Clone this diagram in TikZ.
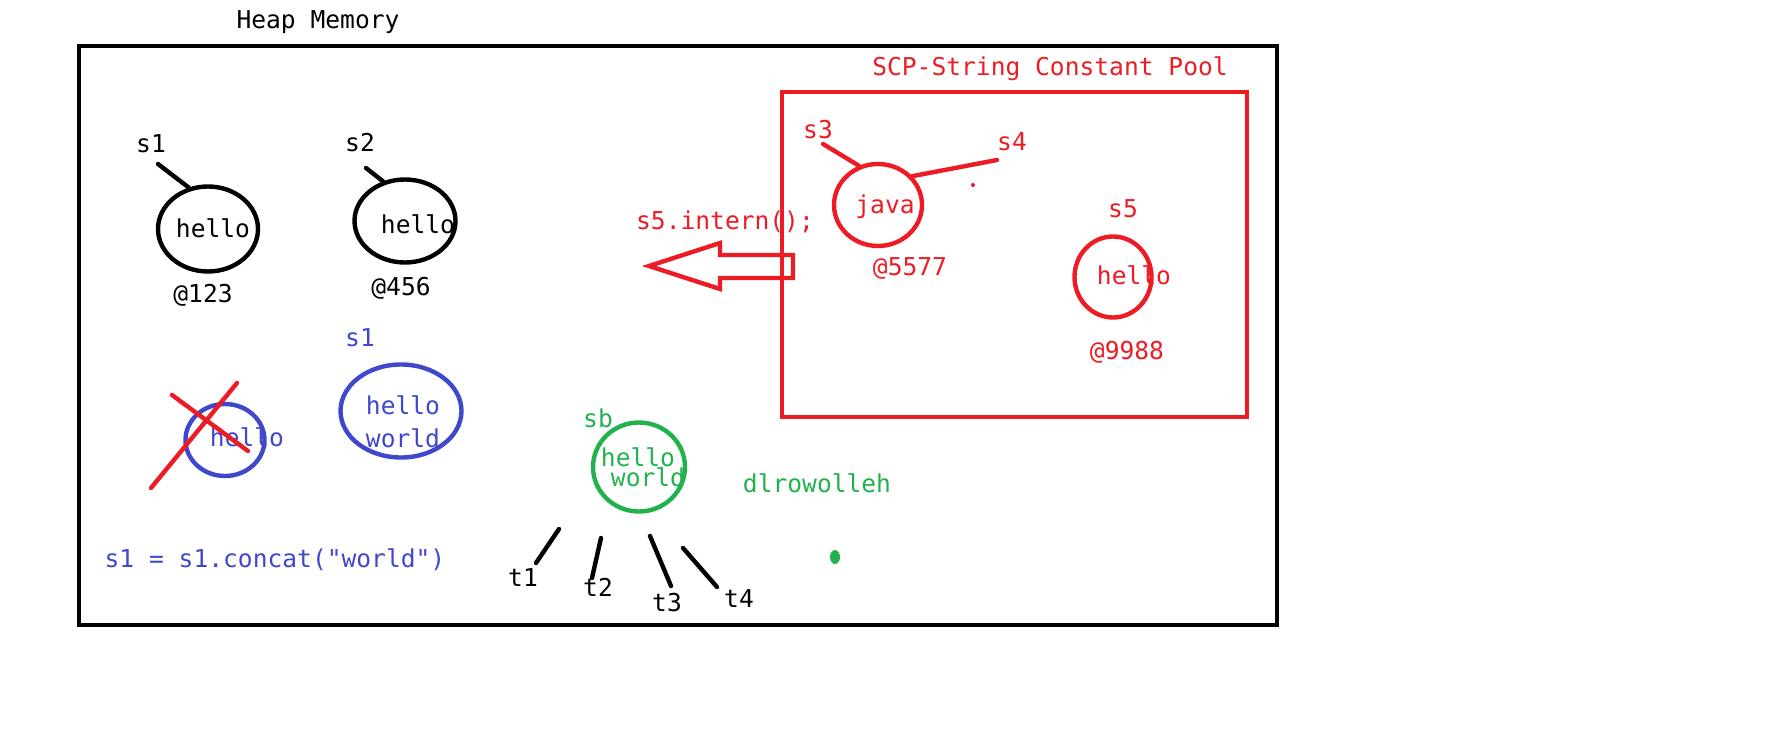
\documentclass[tikz,border=0pt]{standalone}
\usepackage{fontspec}
\setmainfont{DejaVu Sans Mono}[Ligatures=TeXOff]
\usetikzlibrary{shapes.geometric}
\definecolor{heapred}{RGB}{237,28,36}
\definecolor{heapblue}{RGB}{63,72,204}
\definecolor{heapgreen}{RGB}{34,177,76}

\begin{document}
\begin{tikzpicture}[x=0.5pt, y=-0.5pt,
      every node/.style={font=\fontsize{12.3}{16.5}\selectfont, inner sep=0pt},
      bubble/.style={draw, ellipse, line width=2.2pt},
      ptr/.style={line width=2.2pt, line cap=round}]
      \useasboundingbox (0,0) rectangle (1771,743);

      % heap
      \node (heap) at (318,22) {Heap Memory};
      \draw[line width=2.4pt] (79,46) rectangle (1277,625);

      % s1, s2
      \node[bubble, minimum width=50pt, minimum height=42.5pt] (c1) at (208,229) {};
      \node[bubble, minimum width=50.5pt, minimum height=41.5pt] (c2) at (405,221) {};
      \node (s1) at (151,144) {s1};
      \node (s2) at (360,143) {s2};
      \node (h1) at (213,228) {hello};
      \node (h2) at (418,224) {hello};
      \node (a1) at (203,295) {@123};
      \node (a2) at (401,288) {@456};
      \coordinate (s1p) at (158,164);
      \coordinate (s2p) at (366,168);
      \draw[ptr] (s1p) -- (c1.115);
      \draw[ptr] (s2p) -- (c2.119);

      % concat
      \begin{scope}[heapblue]
            \node[bubble, minimum width=39.5pt, minimum height=36pt] (c3) at (225,440) {};
            \node[bubble, minimum width=60.5pt, minimum height=46.5pt] (c4) at (401,411) {};
            \node (h3) at (247,437) {hello};
            \node[align=center] (h4) at (403,422) {hello\\world};
            \node (s1b) at (360,338) {s1};
            \node (concat) at (275,560) {s1 = s1.concat("world")};
      \end{scope}
      \draw[heapred, ptr] (172,395) -- (248,451);
      \draw[heapred, ptr] (237,383) -- (151,488);

      % string buffer
      \begin{scope}[heapgreen]
            \node[bubble, minimum width=46pt, minimum height=44.5pt] (c5) at (639,467) {};
            \node (sb) at (598,418) {sb};
            \node (h5) at (638,457) {hello};
            \node (w5) at (648,477) {world};
            \node (rev) at (817,483) {dlrowolleh};
            \fill (835,557) ellipse [x radius=5, y radius=7];
      \end{scope}

      % threads
      \node (t1) at (523,578) {t1};
      \node (t2) at (598,587) {t2};
      \node (t3) at (667,603) {t3};
      \node (t4) at (739,599) {t4};
      \coordinate (t1a) at (536,563); \coordinate (t1b) at (559,529);
      \coordinate (t2a) at (592,578); \coordinate (t2b) at (601,538);
      \coordinate (t3a) at (671,586); \coordinate (t3b) at (650,536);
      \coordinate (t4a) at (717,587); \coordinate (t4b) at (683,548);
      \foreach \t in {1,...,4}{
            \draw[ptr] (t\t a) -- (t\t b);
      }

      % scp
      \begin{scope}[heapred]
            \node (scp) at (1050,69) {SCP-String Constant Pool};
            \draw[line width=2.2pt] (782,92) rectangle (1247,417);
            \node[bubble, minimum width=44pt, minimum height=41pt] (c6) at (878,205) {};
            \node[bubble, minimum width=38.5pt, minimum height=40.5pt] (c7) at (1113,277) {};
            \node (s3) at (818,130) {s3};
            \node (s4) at (1012,142) {s4};
            \node (s5) at (1123,209) {s5};
            \node (java) at (885,207) {java};
            \node (h7) at (1134,275) {hello};
            \node (a6) at (910,268) {@5577};
            \node (a7) at (1127,352) {@9988};
            \coordinate (s3p) at (823,144);
            \coordinate (s4p) at (997,160);
            \draw[ptr] (s3p) -- (c6.116);
            \draw[ptr] (s4p) -- (c6.40);
            \fill (973,185) circle (2);
            \node (intern) at (725,222) {s5.intern();};
            \draw[line width=2.2pt] (649,266) -- (720,243) -- (720,255) -- (793,255)
                  -- (793,278) -- (720,278) -- (720,289) -- cycle;
      \end{scope}
\end{tikzpicture}
\end{document}
